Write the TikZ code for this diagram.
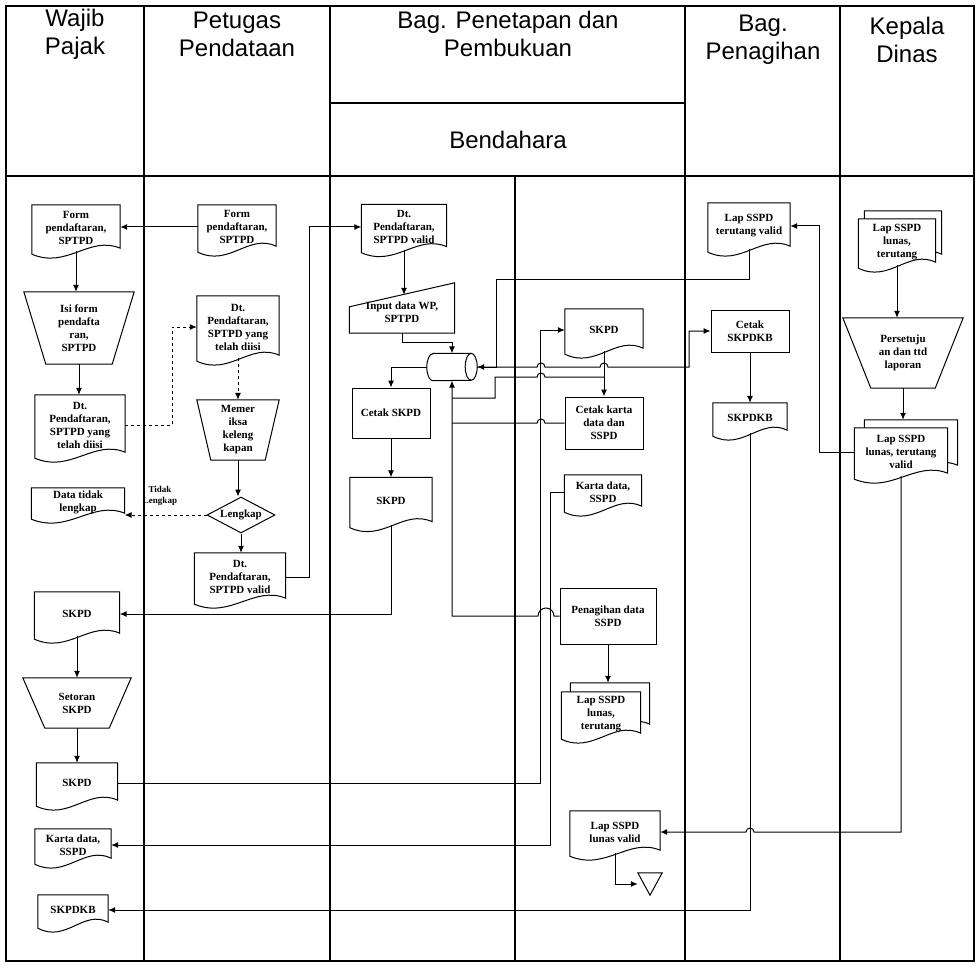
\documentclass[tikz,border=0pt]{standalone}
\usepackage{fontspec}
\setmainfont{Liberation Serif}
\newfontfamily\headfont{Liberation Sans}
\usetikzlibrary{positioning,calc,arrows.meta,shapes.geometric,backgrounds}
\tikzset{
    every node/.style={font=\fontsize{11}{13}\selectfont\bfseries, inner sep=1pt},
    docbox/.style={align=center},
    manbox/.style={align=center},
    procbox/.style={draw, line width=1pt, align=center},
    decbox/.style={draw, line width=1pt, diamond, aspect=2, inner sep=0pt},
    dbbox/.style={minimum width=50pt, minimum height=27pt, inner sep=0pt},
    headbox/.style={font=\headfont\fontsize{24}{28}\selectfont, align=center},
    lbl/.style={align=center, font=\fontsize{9}{10.5}\selectfont\bfseries},
    lane/.style={line width=1.5pt},
    shapeline/.style={line width=1pt, fill=white},
    flow/.style={line width=1pt},
    arrow/.style={-{Latex[length=7pt,width=6pt]}, line width=1pt},
}
% document outline with wavy bottom: node, x shift, y shift
\newcommand{\docshape}[3]{%
  ([shift={(#2,#3-3pt)}]#1.south west) -- ([shift={(#2,#3)}]#1.north west)
  -- ([shift={(#2,#3)}]#1.north east) -- ([shift={(#2,#3+3pt)}]#1.south east)
  .. controls ($(#1.south east)!0.35!(#1.south west)+(#2,#3+16pt)$)
  and ($(#1.south east)!0.6!(#1.south west)+(#2,#3-18pt)$)
  .. ([shift={(#2,#3-3pt)}]#1.south west) -- cycle}

\begin{document}
\begin{tikzpicture}[x=1pt, y=-1pt]
\useasboundingbox (0,0) rectangle (979,968);

% lane headers
\node[headbox] (hwp) at (75,34) {Wajib\\Pajak};
\node[headbox] (hpp) at (237,34) {Petugas\\Pendataan};
\node[headbox] (hbp) at (508,34) {Bag. Penetapan dan\\Pembukuan};
\node[headbox] (hbd) at (508,140) {Bendahara};
\node[headbox] (hpn) at (763,40) {Bag.\\Penagihan};
\node[headbox] (hkd) at (907,40) {Kepala\\Dinas};

% Wajib Pajak
\node[docbox, minimum width=88pt, minimum height=46pt] (w1) at (76,228) {Form\\pendaftaran,\\SPTPD};
\node[manbox, minimum width=110pt, minimum height=72pt] (w2) at (79,328) {Isi form\\pendafta\\ran,\\SPTPD};
\node[docbox, minimum width=90pt, minimum height=60pt] (w3) at (80,425) {Dt.\\Pendaftaran,\\SPTPD yang\\telah diisi};
\node[docbox, minimum width=93pt, minimum height=28pt] (w4) at (78,502) {Data tidak\\lengkap};
\node[docbox, minimum width=85pt, minimum height=44pt] (w5) at (77,614) {SKPD};
\node[manbox, minimum width=108pt, minimum height=50pt] (w6) at (77,703) {Setoran\\SKPD};
\node[docbox, minimum width=81pt, minimum height=40pt] (w7) at (77,783) {SKPD};
\node[docbox, minimum width=76pt, minimum height=32pt] (w8) at (73,845) {Karta data,\\SSPD};
\node[docbox, minimum width=70pt, minimum height=30pt] (w9) at (73,910) {SKPDKB};

% Petugas Pendataan
\node[docbox, minimum width=78pt, minimum height=44pt] (p1) at (237,227) {Form\\pendaftaran,\\SPTPD};
\node[docbox, minimum width=82pt, minimum height=62pt] (p2) at (238,327) {Dt.\\Pendaftaran,\\SPTPD yang\\telah diisi};
\node[manbox, minimum width=82pt, minimum height=60pt] (p3) at (238,430) {Memer\\iksa\\keleng\\kapan};
\node[decbox, minimum width=68pt, minimum height=36pt] (p4) at (241,515) {Lengkap};
\node[docbox, minimum width=91pt, minimum height=48pt] (p5) at (240,577) {Dt.\\Pendaftaran,\\SPTPD valid};

% Bag. Penetapan dan Pembukuan / Bendahara
\node[docbox, minimum width=85pt, minimum height=45pt] (b1) at (404,227) {Dt.\\Pendaftaran,\\SPTPD valid};
\node[manbox, minimum width=105pt, minimum height=42pt] (b2) at (402,312) {Input data WP,\\SPTPD};
\node[dbbox] (b3) at (452,367) {};
\node[procbox, minimum width=78pt, minimum height=50pt] (b4) at (391,413) {Cetak SKPD};
\node[docbox, minimum width=82pt, minimum height=47pt] (b5) at (391,501) {SKPD};
\node[docbox, minimum width=78pt, minimum height=42pt] (b6) at (604,330) {SKPD};
\node[procbox, minimum width=78pt, minimum height=52pt] (b7) at (604,423) {Cetak karta\\data dan\\SSPD};
\node[docbox, minimum width=77pt, minimum height=34pt] (b8) at (603,492) {Karta data,\\SSPD};
\node[procbox, minimum width=96pt, minimum height=56pt] (b9) at (608,616) {Penagihan data\\SSPD};
\node[docbox, minimum width=79pt, minimum height=44pt] (b10) at (601,714) {Lap SSPD\\lunas,\\terutang};
\node[docbox, minimum width=90pt, minimum height=42pt] (n4) at (615,832) {Lap SSPD\\lunas valid};
\node[minimum width=24pt, minimum height=22pt] (st) at (650,884) {};

% Bag. Penagihan
\node[docbox, minimum width=82pt, minimum height=46pt] (n1) at (749,226) {Lap SSPD\\terutang valid};
\node[procbox, minimum width=78pt, minimum height=42pt] (n2) at (750,331) {Cetak\\SKPDKB};
\node[docbox, minimum width=74pt, minimum height=30pt] (n3) at (750,418) {SKPDKB};

% Kepala Dinas
\node[docbox, minimum width=77pt, minimum height=46pt] (k1) at (897,242) {Lap SSPD\\lunas,\\terutang};
\node[manbox, minimum width=120pt, minimum height=70pt] (k2) at (903,353) {Persetuju\\an dan ttd\\laporan};
\node[docbox, minimum width=93pt, minimum height=48pt] (k3) at (901,452) {Lap SSPD\\lunas, terutang\\valid};

\coordinate (b2top) at ([yshift=-4pt]b2.north);
\coordinate (b10top) at ([yshift=9pt]b10.north);
\coordinate (k3top) at ([yshift=8pt]k3.north);
\coordinate (j1) at (b6.south |- 0,377);

% flow
\draw[arrow] (p1.west) -- (p1.west -| w1.east);
\draw[arrow] (w1.south) -- (w1.south |- w2.north);
\draw[arrow] (w2.south) -- (w2.south |- w3.north);
\draw[arrow, dashed] (w3.east) -- ++(47,0) |- (p2.west);
\draw[arrow, dashed] (p2.south) -- (p2.south |- p3.north);
\draw[arrow] (p3.south) -- (p3.south |- p4.north);
\draw[arrow, dashed] (p4.west) -- (p4.west -| w4.east);
\node[lbl] (tdk) at (160,496) {Tidak\\Lengkap};
\draw[arrow] (p4.south) -- (p4.south |- p5.north);
\draw[arrow] (p5.east) -- ++(24,0) |- (b1.west);
\draw[arrow] (b1.south) -- (b1.south |- b2top);
\draw[arrow] (b2.south) -- ++(0,9) -| (b3.north);
\draw[arrow] (b3.west) -| (b4.north);
\draw[arrow] (b4.south) -- (b4.south |- b5.north);
\draw[arrow] (b5.south) |- (w5.east);
\draw[arrow] (w5.south) -- (w5.south |- w6.north);
\draw[arrow] (w6.south) -- (w6.south |- w7.north);

\draw[arrow] (n1.south) -- ++(0,30) -| ([xshift=19pt]b3.east) -- (b3.east);
\draw[arrow] (b3.east) -- (537,367) arc[start angle=180,end angle=0,radius=4pt] -- (600,367) arc[start angle=180,end angle=0,radius=4pt] -- (689,367) |- (n2.west);
\draw[arrow] (b6.south) -- (b6.south |- b7.north);
\draw[flow] (j1) -- (545,377) arc[start angle=0,end angle=180,radius=4pt] -- (495,377) -- (495,398) -- (b3.south |- 0,398);
\draw[flow] (b7.west) -- (545,423) arc[start angle=0,end angle=180,radius=4pt] -- (b7.west -| b3.south);
\draw[arrow] (b9.west) -- (554,616) arc[start angle=0,end angle=180,radius=8pt] -- (b9.west -| b3.south) -- (b3.south);
\draw[arrow] (w7.east) -| ([xshift=-24pt]b6.west) -- (b6.west);
\draw[arrow] (b8.west) -- ++(-14,0) |- (w8.east);
\draw[arrow] (b9.south) -- (b9.south |- b10top);
\draw[arrow] (n4.south) |- (st.west);

\draw[arrow] (n2.south) -- (n2.south |- n3.north);
\draw[arrow] (n3.south) |- (w9.east);
\draw[arrow] (k1.south) -- (k1.south |- k2.north);
\draw[arrow] (k2.south) -- (k2.south |- k3top);
\draw[arrow] (k3.west) -- ++(-35,0) |- (n1.east);
\draw[arrow] (k3.south) |- (754,832) arc[start angle=0,end angle=180,radius=4pt] -- (n4.east);

\begin{scope}[on background layer]
  % pool and lanes
  \draw[lane] (6,6) rectangle (974,961);
  \draw[lane] (6,176) -- (974,176);
  \draw[lane] (330,103) -- (685,103);
  \foreach \x in {144,330,685,840}
    \draw[lane] (\x,6) -- (\x,961);
  \draw[lane] (515,176) -- (515,961);
  % shapes
  \foreach \n in {w1,w3,w4,w5,w7,w8,w9,p1,p2,p5,b1,b5,b6,b8,n1,n3,n4}
    \draw[shapeline] \docshape{\n}{0pt}{0pt};
  \foreach \n/\dx/\dy in {k1/6pt/8pt,k3/10pt/8pt,b10/9pt/9pt}{
    \draw[shapeline] \docshape{\n}{\dx}{\dy};
    \draw[shapeline] \docshape{\n}{0pt}{0pt};
  }
  \foreach \n/\k in {w2/22pt,w6/22pt,p3/14pt,k2/28pt}
    \draw[shapeline] (\n.north west) -- (\n.north east) -- ([xshift=-\k]\n.south east) -- ([xshift=\k]\n.south west) -- cycle;
  \draw[shapeline] ([yshift=-16pt]b2.north west) -- ([yshift=8pt]b2.north east) -- (b2.south east) -- (b2.south west) -- cycle;
  \draw[shapeline] (st.north west) -- (st.north east) -- (st.south) -- cycle;
  % database
  \draw[shapeline] ([xshift=6pt]b3.north west) -- ([xshift=-6pt]b3.north east)
    arc[start angle=90,end angle=-90,x radius=6pt,y radius=13.5pt]
    -- ([xshift=6pt]b3.south west)
    arc[start angle=270,end angle=90,x radius=6pt,y radius=13.5pt] -- cycle;
  \draw[flow] ([xshift=-6pt]b3.north east) arc[start angle=90,end angle=270,x radius=6pt,y radius=13.5pt];
\end{scope}

\end{tikzpicture}
\end{document}
